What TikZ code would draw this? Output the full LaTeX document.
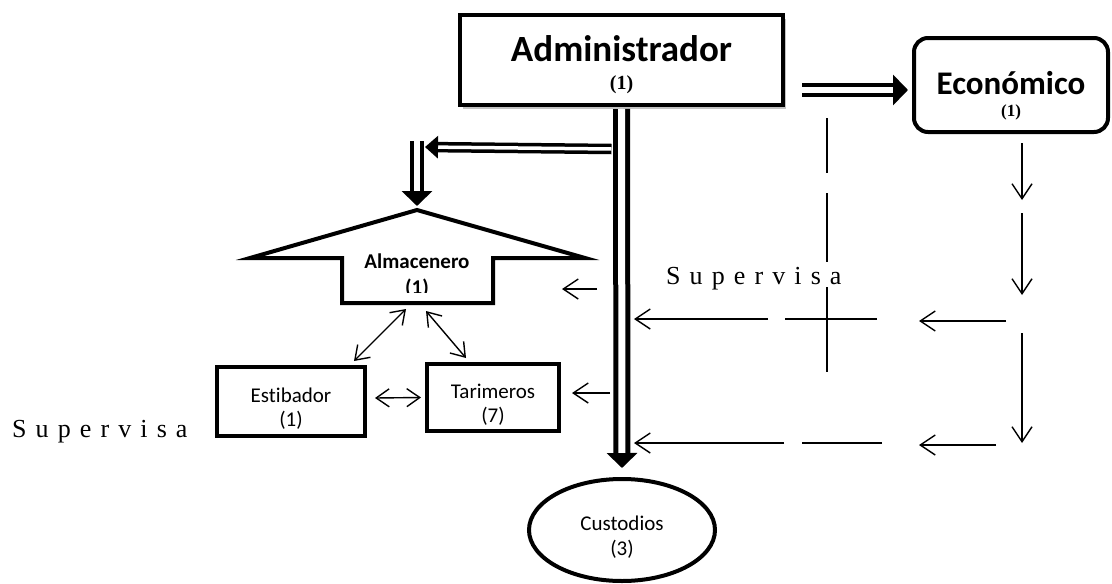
\documentclass[tikz,border=0pt]{standalone}
\usepackage{fontspec}
\usepackage{tikz}
\usetikzlibrary{shapes,positioning,arrows.meta,shadows}
\setmainfont{Carlito}[Ligatures=NoCommon]
\newfontfamily\timesfont{Liberation Serif}
\definecolor{shadecolor}{RGB}{170,170,170}
\newcommand{\lift}[1]{\rule{0pt}{#1}}

\begin{document}
\begin{tikzpicture}[%
    x=1pt, y=-1pt,              % pixel grid, y runs downwards
    line join=miter,
    ]
\tikzset{
  base/.style={draw, line width=4pt, align=center, inner sep=0pt, fill=white},
  boss/.style={base, rectangle, minimum width=323pt, minimum height=90pt,
    font=\fontsize{37}{37}\selectfont\bfseries,
    drop shadow={shadow xshift=3pt, shadow yshift=-4pt, fill=shadecolor, opacity=.7}},
  eco/.style={base, rectangle, rounded corners=14pt, minimum width=194pt, minimum height=94pt,
    font=\fontsize{33}{33}\selectfont\bfseries},
  crew/.style={base, rectangle, font=\fontsize{21}{24}\selectfont},
  keep/.style={base, ellipse, minimum width=186pt, minimum height=102pt,
    font=\fontsize{21}{25}\selectfont},
  word/.style={font=\timesfont\fontsize{26}{30}\selectfont\addfontfeature{LetterSpace=35},
    anchor=base west, inner sep=0pt},
  dbl/.style={double=white, -{Triangle[length=15pt, width=30pt]}},
  tarrow/.style={line width=1.4pt, -{Straight Barb[length=15pt, width=20pt]}},
  barrow/.style={line width=1.4pt, {Straight Barb[length=13pt, width=18pt]}-{Straight Barb[length=13pt, width=18pt]}},
}

\fill[white] (0,0) rectangle (1112,584);
\useasboundingbox (0,0) rectangle (1112,584);

\node [boss] (p0) at (621.5,60) {\lift{35pt}Administrador\\[-9pt]{\timesfont\fontsize{20}{20}\selectfont (1)}};
\node [eco] (p1) at (1011,85) {\lift{44pt}Económico\\[-11pt]{\timesfont\fontsize{17}{20}\selectfont (1)}};

\draw [line width=4pt, fill=white] (417,210) coordinate (a0) -- (585,258) -- (493,258)
  -- (493,303) -- (342,303) -- (342,258) -- (250,258) -- cycle;
\coordinate (ab) at (417,303);
\coordinate (ar) at (493,289);
\begin{scope}
  \clip (345,248) rectangle (490,292);
  \node [font=\fontsize{21}{26}\selectfont\bfseries, align=center] (p2) at (417,275.5) {Almacenero\\(1)};
\end{scope}

\node [crew, minimum width=148pt, minimum height=69pt] (p3) at (291,401.5) {\lift{28pt}Estibador\\(1)};
\node [crew, minimum width=132pt, minimum height=67pt] (p4) at (493,397.5) {\lift{28pt}Tarimeros\\(7)};
\node [keep] (p5) at (622,530) {\lift{28pt}Custodios\\(3)};

\node [word] (s0) at (12,437) {Supervisa};
\node [word] (s1) at (666,284) {Supervisa};

% free ends
\coordinate (k1) at (417,147);
\coordinate (d1) at (827,118);
\coordinate (d2) at (827,372);
\coordinate (m1) at (877,319);
\coordinate (t1) at (634,319);
\coordinate (m2) at (882,443);
\coordinate (t2) at (634,443);
\coordinate (r1) at (1006,321);
\coordinate (r2) at (996,445);

%connect
\draw [dbl, line width=5pt, double distance=7pt] ([yshift=-2pt]p0.south) -- ([yshift=9pt]p5.north);
\draw [dbl, line width=4.5pt, double distance=5.5pt] ([xshift=17pt,yshift=-30pt]p0.east) -- ([xshift=-4pt,yshift=-5pt]p1.west);
\draw [dbl, line width=3.5pt, double distance=3.5pt, -{Triangle[length=13pt, width=22pt]}]
  ([xshift=-10pt,yshift=-42pt]p0.south) -- ([xshift=8pt]k1);
\draw [dbl, line width=4.5pt, double distance=5.5pt] ([yshift=6pt]k1) -- ([yshift=4pt]a0);

\draw [barrow] ([xshift=-11pt,yshift=-6pt]ab) -- ([xshift=-13pt,yshift=4pt]p3.north east);
\draw [barrow] ([xshift=9pt,yshift=-8pt]ab) -- ([xshift=41pt,yshift=4pt]p4.north west);
\draw [barrow] ([xshift=8pt,yshift=3.5pt]p3.east) -- ([xshift=-4pt]p4.west);

\draw [tarrow] ([xshift=104pt]ar) -- ([xshift=69pt]ar);
\draw [tarrow] ([xshift=49pt,yshift=4.5pt]p4.east) -- ([xshift=11pt,yshift=4.5pt]p4.east);

\foreach \from/\to in {9/66, 79/161, 199/309}
  \draw [tarrow] ([xshift=11pt,yshift=-\from pt]p1.south) -- ([xshift=11pt,yshift=-\to pt]p1.south);

\draw [line width=1.4pt, dash pattern=on 55pt off 20pt on 69pt off 25pt on 85pt] (d1) -- (d2);
\draw [tarrow, dash pattern=on 92pt off 17pt on 300pt] (m1) -- (t1);
\draw [tarrow, dash pattern=on 80pt off 18pt on 300pt] (m2) -- (t2);
\draw [tarrow] (r1) -- ([xshift=-87pt]r1);
\draw [tarrow] (r2) -- ([xshift=-77pt]r2);

\end{tikzpicture}
\end{document}
